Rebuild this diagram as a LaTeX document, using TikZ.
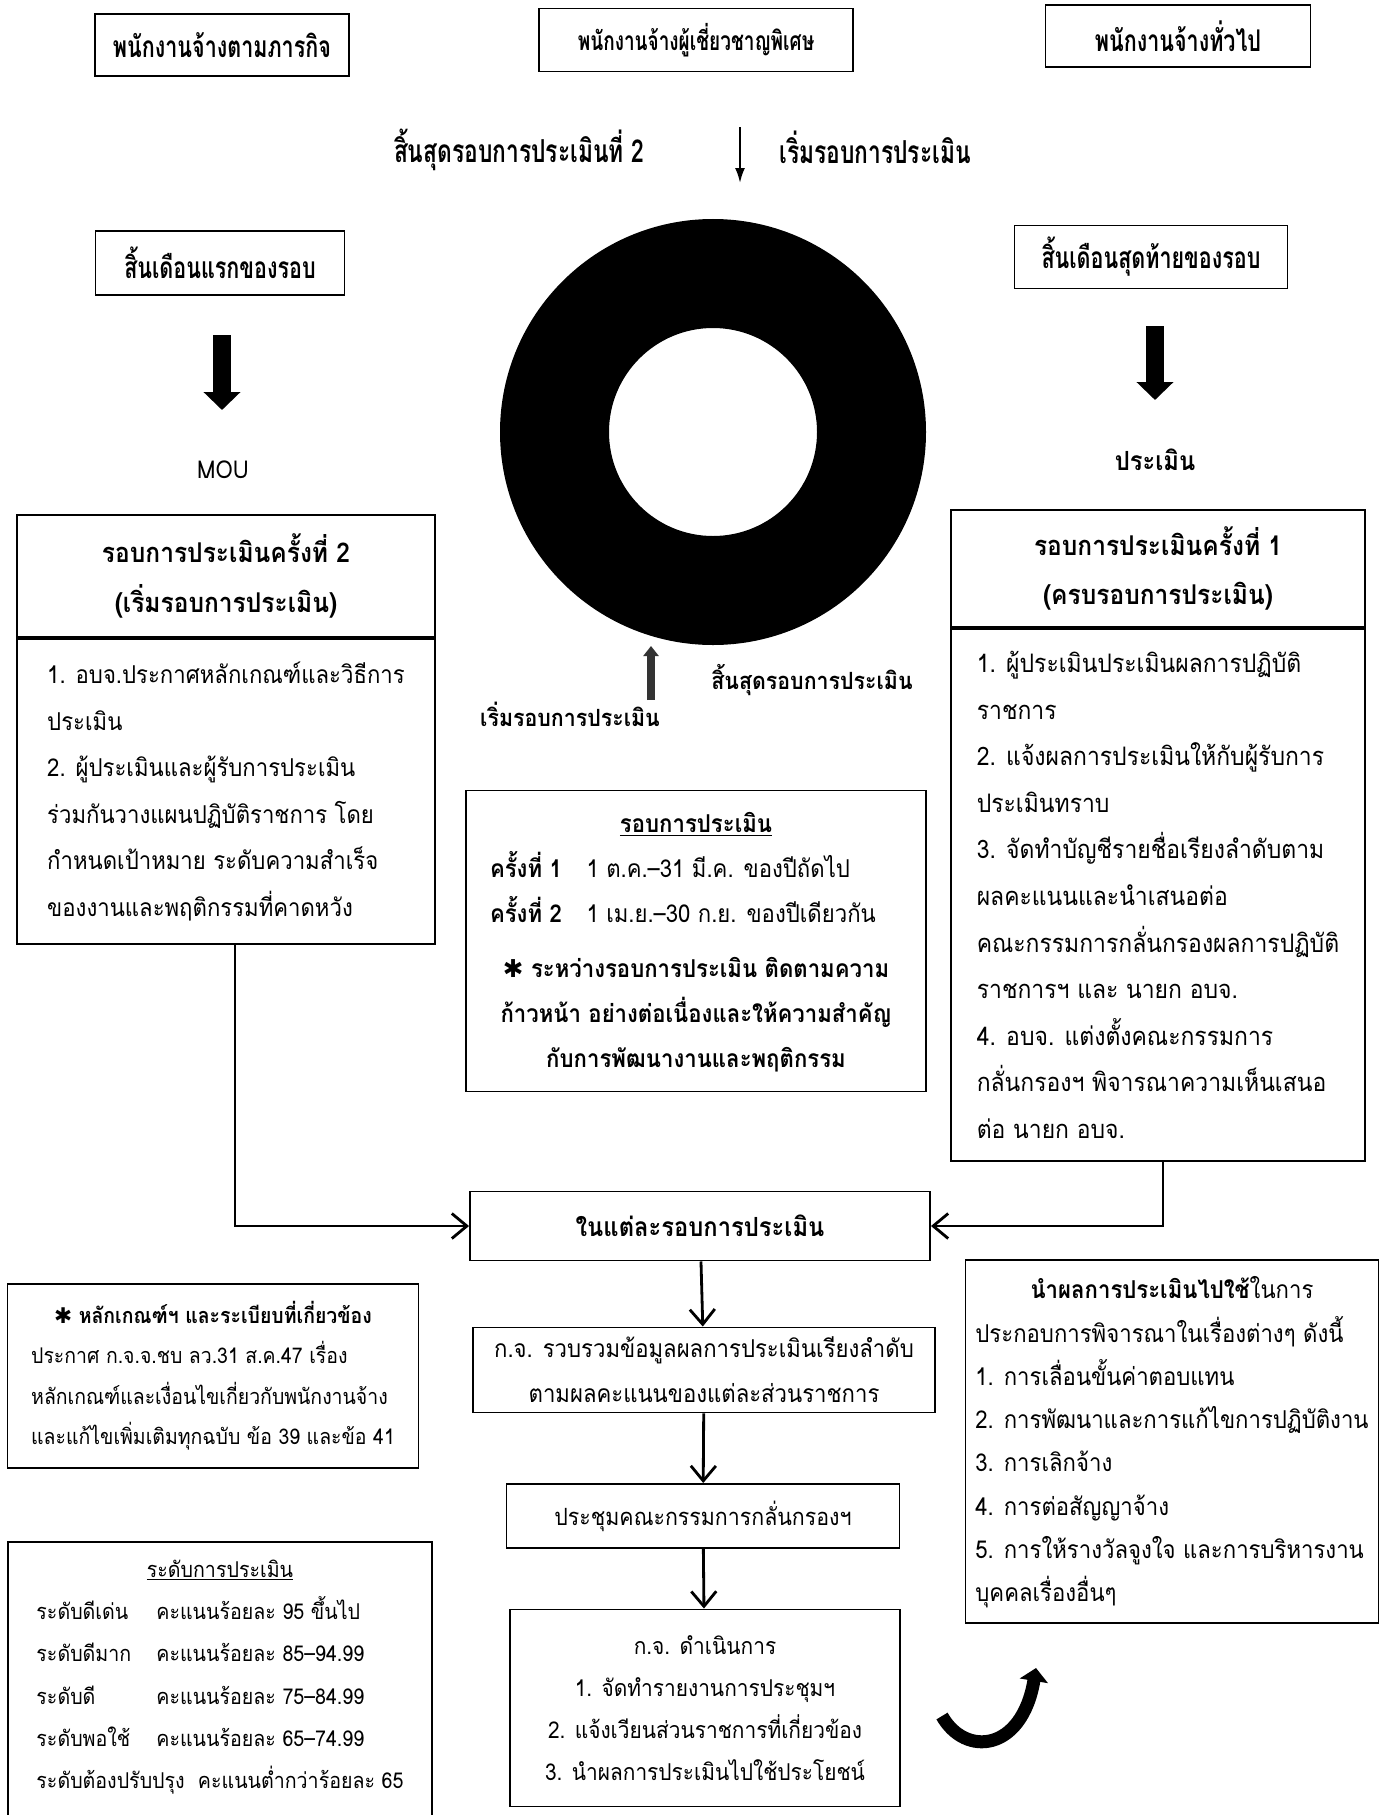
\documentclass[tikz,border=0pt]{standalone}
\usepackage{fontspec}
\setmainfont{Loma}[Script=Thai, FakeStretch=0.9]
\newfontfamily\condfont{Loma}[Script=Thai, FakeStretch=0.72]
\newfontfamily\symfont{DejaVu Sans}
\usetikzlibrary{arrows.meta}

\begin{document}
\begin{tikzpicture}[x = 0.2mm, y = -0.2mm,
  txtbox/.style = {draw, line width = 1.1pt, inner sep = 0pt},
  hdbox/.style = {txtbox, font = \condfont\bfseries\fontsize{17}{20}\selectfont},
  condlbl/.style = {font = \condfont\bfseries\fontsize{18}{20}\selectfont},
  lbl/.style = {font = \bfseries\fontsize{13.5}{16}\selectfont},
  ttl/.style = {align = center, font = \bfseries\fontsize{15.5}{28}\selectfont},
  bodytxt/.style = {align = left, font = \fontsize{14.5}{26.5}\selectfont},
  flow/.style = {line width = 1.6pt, -{Straight Barb[length = 3mm, width = 5mm]}},
  fatarrow/.style = {line width = 3.6mm, -{Triangle[width = 7.2mm, length = 3.6mm]}}]
\useasboundingbox (0,0) rectangle (1385,1815);
% Types of employees
\node[hdbox, minimum width = 50.8mm, minimum height = 12.4mm] (emp1) at (222,45) {พนักงานจ้างตามภารกิจ};
\node[hdbox, minimum width = 62.8mm, minimum height = 12.6mm, font = \condfont\bfseries\fontsize{15}{20}\selectfont] (emp2) at (696,40) {พนักงานจ้างผู้เชี่ยวชาญพิเศษ};
\node[hdbox, minimum width = 53mm, minimum height = 12.4mm] (emp3) at (1178,36) {พนักงานจ้างทั่วไป};
% Months
\node[hdbox, minimum width = 49.8mm, minimum height = 12.8mm] (mon1) at (220,263) {สิ้นเดือนแรกของรอบ};
\node[hdbox, minimum width = 54.6mm, minimum height = 12.6mm] (mon2) at (1151,257) {สิ้นเดือนสุดท้ายของรอบ};
% Ring
\coordinate (ring) at (713,432);
\fill[even odd rule] (ring) circle[radius = 42.6mm] (ring) circle[radius = 20.8mm];
\node[condlbl] (endtwo) at (519,150) {สิ้นสุดรอบการประเมินที่ 2};
\node[condlbl] (starta) at (875,147) {เริ่มรอบการประเมิน};
\node[lbl] (endb) at (812,680) {สิ้นสุดรอบการประเมิน};
\node[lbl] (startb) at (570,714) {เริ่มรอบการประเมิน};
\coordinate (ta) at (740,127);
\coordinate (tb) at (740,183);
\draw[line width = 1.2pt, -{Latex[length = 3mm, width = 2mm]}] (ta) -- (tb);
\coordinate (ba) at (651,700);
\coordinate (bb) at (651,646);
\draw[black!80, line width = 1.6mm, -{Triangle[width = 3mm, length = 2mm]}] (ba) -- (bb);
% Big arrows
\node[font = \fontsize{14}{16}\selectfont] (mou) at (223,470) {MOU};
\node[lbl, font = \bfseries\fontsize{15}{16}\selectfont] (eval) at (1155,460) {ประเมิน};
\coordinate (fa1) at (222,335);
\coordinate (fa2) at (222,410);
\coordinate (fb1) at (1155,326);
\coordinate (fb2) at (1155,400);
\draw[fatarrow] (fa1) -- (fa2);
\draw[fatarrow] (fb1) -- (fb2);
% Round 2
\node[txtbox, ttl, minimum width = 83.6mm, minimum height = 24.4mm] (lt) at (226,576) {รอบการประเมินครั้งที่ 2\\(เริ่มรอบการประเมิน)};
\node[txtbox, bodytxt, font = \fontsize{14}{26.5}\selectfont, minimum width = 83.6mm, minimum height = 61mm, anchor = north] (lb) at (lt.south) {1. อบจ.ประกาศหลักเกณฑ์และวิธีการ\\
ประเมิน\\
2. ผู้ประเมินและผู้รับการประเมิน\\
ร่วมกันวางแผนปฏิบัติราชการ โดย\\
กำหนดเป้าหมาย ระดับความสำเร็จ\\
ของงานและพฤติกรรมที่คาดหวัง};
% Round 1
\node[txtbox, ttl, minimum width = 82.8mm, minimum height = 23.4mm] (rt) at (1158,568.5) {รอบการประเมินครั้งที่ 1\\(ครบรอบการประเมิน)};
\node[txtbox, bodytxt, minimum width = 82.8mm, minimum height = 106.4mm, anchor = north] (rb) at (rt.south) {1. ผู้ประเมินประเมินผลการปฏิบัติ\\
ราชการ\\
2. แจ้งผลการประเมินให้กับผู้รับการ\\
ประเมินทราบ\\
3. จัดทำบัญชีรายชื่อเรียงลำดับตาม\\
ผลคะแนนและนำเสนอต่อ\\
คณะกรรมการกลั่นกรองผลการปฏิบัติ\\
ราชการฯ และ นายก อบจ.\\
4. อบจ. แต่งตั้งคณะกรรมการ\\
กลั่นกรองฯ พิจารณาความเห็นเสนอ\\
ต่อ นายก อบจ.};
% Cycle dates
\node[txtbox, minimum width = 92mm, minimum height = 60.2mm, font = \fontsize{14}{25.5}\selectfont] (cyc) at (696,941) {\begin{tabular}{@{}l@{}}
\multicolumn{1}{c}{\underline{\textbf{รอบการประเมิน}}}\\
\textbf{ครั้งที่ 1}\quad 1 ต.ค.–31 มี.ค. ของปีถัดไป\\
\textbf{ครั้งที่ 2}\quad 1 เม.ย.–30 ก.ย. ของปีเดียวกัน\\[6pt]
\multicolumn{1}{c}{\textbf{{\symfont ✱} ระหว่างรอบการประเมิน ติดตามความ}}\\
\multicolumn{1}{c}{\textbf{ก้าวหน้า อย่างต่อเนื่องและให้ความสำคัญ}}\\
\multicolumn{1}{c}{\textbf{กับการพัฒนางานและพฤติกรรม}}
\end{tabular}};
% Flow
\node[txtbox, minimum width = 92mm, minimum height = 13.8mm, font = \bfseries\fontsize{15}{18}\selectfont] (each) at (700,1226) {ในแต่ละรอบการประเมิน};
\node[txtbox, align = center, minimum width = 92.4mm, minimum height = 17mm, font = \fontsize{14}{25.6}\selectfont] (col) at (704,1370) {ก.จ. รวบรวมข้อมูลผลการประเมินเรียงลำดับ\\ตามผลคะแนนของแต่ละส่วนราชการ};
\node[txtbox, minimum width = 78.6mm, minimum height = 12.8mm, font = \fontsize{13.5}{16}\selectfont] (meet) at (703,1516) {ประชุมคณะกรรมการกลั่นกรองฯ};
\node[txtbox, align = center, minimum width = 78mm, minimum height = 39.4mm, font = \fontsize{13.2}{24}\selectfont] (act) at (705,1708) {ก.จ. ดำเนินการ\\
1. จัดทำรายงานการประชุมฯ\\
2. แจ้งเวียนส่วนราชการที่เกี่ยวข้อง\\
3. นำผลการประเมินไปใช้ประโยชน์};
\draw[flow] ([xshift = 1.8mm]lb.south) |- (each.west);
\draw[flow] ([xshift = 1mm]rb.south) |- (each.east);
\draw[flow] (each) -- (col);
\draw[flow] (col) -- (meet);
\draw[flow] (meet) -- (act);
% Rules and levels
\node[txtbox, minimum width = 82.2mm, minimum height = 36.8mm, font = \fontsize{12.3}{22.8}\selectfont] (rule) at (213,1376) {\begin{tabular}{@{}l@{}}
\multicolumn{1}{c}{\textbf{{\symfont ✱} หลักเกณฑ์ฯ และระเบียบที่เกี่ยวข้อง}}\\
ประกาศ ก.จ.จ.ชบ ลว.31 ส.ค.47 เรื่อง\\
หลักเกณฑ์และเงื่อนไขเกี่ยวกับพนักงานจ้าง\\
และแก้ไขเพิ่มเติมทุกฉบับ ข้อ 39 และข้อ 41
\end{tabular}};
\node[txtbox, minimum width = 84.8mm, minimum height = 60mm, anchor = north, font = \fontsize{12.4}{24.1}\selectfont] (lvl) at (220,1541) {\begin{tabular}{@{}l@{}}
\multicolumn{1}{c}{\underline{ระดับการประเมิน}}\\
\makebox[24mm][l]{ระดับดีเด่น}คะแนนร้อยละ 95 ขึ้นไป\\
\makebox[24mm][l]{ระดับดีมาก}คะแนนร้อยละ 85–94.99\\
\makebox[24mm][l]{ระดับดี}คะแนนร้อยละ 75–84.99\\
\makebox[24mm][l]{ระดับพอใช้}คะแนนร้อยละ 65–74.99\\
ระดับต้องปรับปรุง\ \ คะแนนต่ำกว่าร้อยละ 65\\[20pt]
\end{tabular}};
% Use of results
\node[txtbox, minimum width = 82.6mm, minimum height = 72.6mm, font = \fontsize{14}{24.6}\selectfont] (use) at (1172,1441.5) {\begin{tabular}{@{}l@{}}
\multicolumn{1}{c}{\textbf{นำผลการประเมินไปใช้}ในการ}\\
ประกอบการพิจารณาในเรื่องต่างๆ ดังนี้\\
1. การเลื่อนขั้นค่าตอบแทน\\
2. การพัฒนาและการแก้ไขการปฏิบัติงาน\\
3. การเลิกจ้าง\\
4. การต่อสัญญาจ้าง\\
5. การให้รางวัลจูงใจ และการบริหารงาน\\
บุคคลเรื่องอื่นๆ
\end{tabular}};
\coordinate (ca) at (942,1716);
\coordinate (cb) at (1036,1668);
\draw[line width = 2.6mm, -{Triangle[width = 5.6mm, length = 2.6mm]}] (ca) .. controls (965,1757) and (1022,1752) .. (cb);
\end{tikzpicture}
\end{document}
